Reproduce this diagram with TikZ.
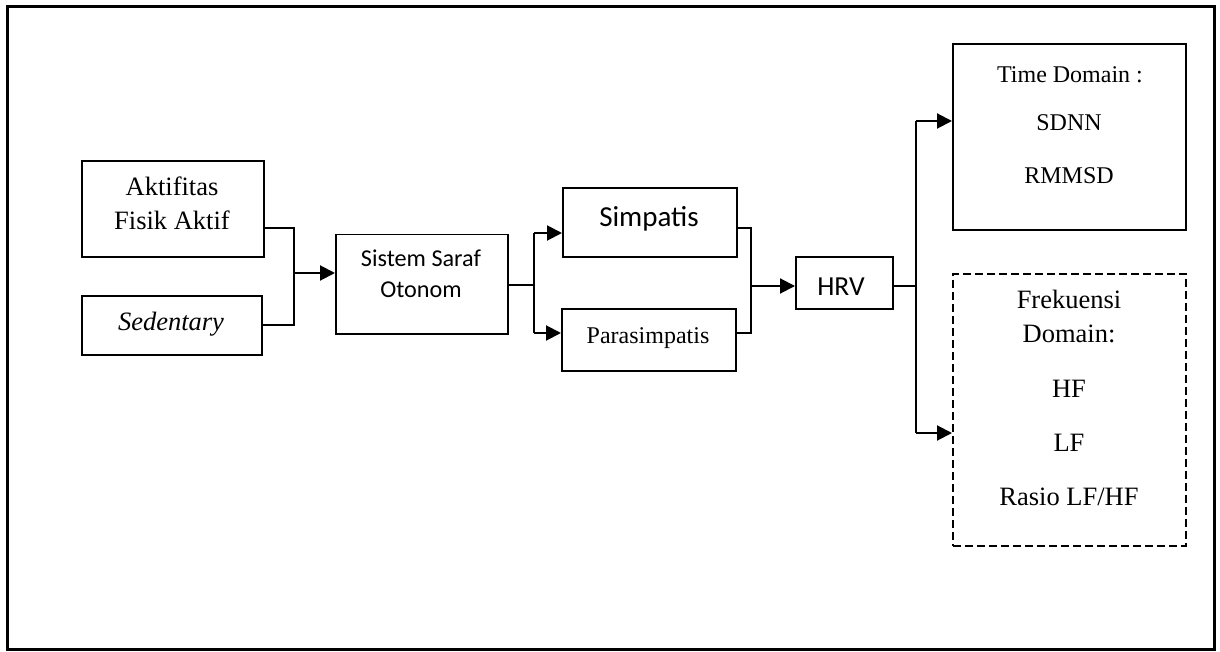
\documentclass[tikz,border=0pt]{standalone}
\usepackage{fontspec}
\setmainfont{Liberation Serif}
\newfontfamily\calfont{Carlito}
\usetikzlibrary{arrows.meta}
\tikzset{
  box/.style={draw, line width=2pt, inner sep=0pt, anchor=north west},
  thinbox/.style={draw, line width=1.5pt, inner sep=0pt, anchor=north west},
  dbox/.style={draw, line width=2pt, dash pattern=on 8pt off 4pt, inner sep=0pt, anchor=north west},
  lbl/.style={anchor=base, inner sep=0pt},
  conn/.style={line width=1.3pt},
  arr/.style={line width=2pt, -{Triangle[length=15pt,width=15pt]}},
}
\newcommand{\tr}{\fontsize{26.5}{30}\selectfont}
\newcommand{\ts}{\fontsize{24}{28}\selectfont}
\begin{document}
\begin{tikzpicture}[x=1pt,y=-1pt]
\useasboundingbox (0,0) rectangle (1220,652);
\draw[line width=3pt] (7,7) rectangle (1214,649);
% boxes
\node[box, minimum width=182pt, minimum height=96pt] (akt) at (81,160) {};
\node[box, minimum width=180pt, minimum height=59pt] (sed) at (81,295) {};
\node[thinbox, minimum width=172pt, minimum height=99pt] (sso) at (335,234) {};
\node[box, minimum width=174pt, minimum height=69pt] (simp) at (562,187) {};
\node[box, minimum width=174pt, minimum height=62pt] (para) at (561,308) {};
\node[box, minimum width=97pt, minimum height=52pt] (hrv) at (795,256) {};
\node[box, minimum width=233pt, minimum height=186pt] (td) at (952,43) {};
\node[dbox, minimum width=233pt, minimum height=272pt] (fd) at (952,273) {};
% labels
\node[lbl] (l1) at (172,196) {\tr Aktifitas};
\node[lbl] (l2) at (172,230) {\tr Fisik Aktif};
\node[lbl] (l3) at (171,330) {\tr\itshape Sedentary};
\node[lbl] (l4) at (421,267) {\calfont\fontsize{24.2}{28}\selectfont Sistem Saraf};
\node[lbl] (l5) at (421,298) {\calfont\fontsize{24.2}{28}\selectfont Otonom};
\node[lbl] (l6) at (649,227) {\calfont\fontsize{29}{32}\selectfont Simpatis};
\node[lbl] (l7) at (648,343) {\ts Parasimpatis};
\node[lbl] (l8) at (841,295) {\calfont\fontsize{27.5}{30}\selectfont HRV};
\node[lbl] (l9) at (1070,83) {\ts Time Domain :};
\node[lbl] (l10) at (1069,131) {\ts SDNN};
\node[lbl] (l11) at (1069,184) {\ts RMMSD};
\node[lbl] (l12) at (1069,308) {\tr Frekuensi};
\node[lbl] (l13) at (1069,342) {\tr Domain:};
\node[lbl] (l14) at (1069,397) {\tr HF};
\node[lbl] (l15) at (1069,451) {\tr LF};
\node[lbl] (l16) at (1069,505) {\tr Rasio LF/HF};
% connectors: left merge
\coordinate (a1) at (294,228);
\coordinate (a2) at (294,325);
\coordinate (j1) at (294,273);
\draw[conn] (a1 -| akt.east) -- (a1) -- (a2) -- (a2 -| sed.east);
\draw[arr] (j1) -- (j1 -| sso.west);
% split to simpatis / parasimpatis
\coordinate (b0) at (534,285);
\coordinate (b1) at (534,233);
\coordinate (b2) at (534,333);
\draw[conn] (b0 -| sso.east) -- (b0);
\draw[conn] (b1) -- (b2);
\draw[arr] (b1) -- (b1 -| simp.west);
\draw[arr] (b2) -- (b2 -| para.west);
% merge to HRV
\coordinate (c1) at (751,228);
\coordinate (c2) at (751,333);
\coordinate (j2) at (751,286);
\draw[conn] (c1 -| simp.east) -- (c1) -- (c2) -- (c2 -| para.east);
\draw[arr] (j2) -- (j2 -| hrv.west);
% split to domains
\coordinate (d0) at (916,286);
\coordinate (d1) at (916,121);
\coordinate (d2) at (916,433);
\draw[conn] (d0 -| hrv.east) -- (d0);
\draw[line width=1.8pt] (d1) -- (d2);
\draw[arr] (d1) -- (d1 -| td.west);
\draw[arr] (d2) -- (d2 -| fd.west);
\end{tikzpicture}
\end{document}
